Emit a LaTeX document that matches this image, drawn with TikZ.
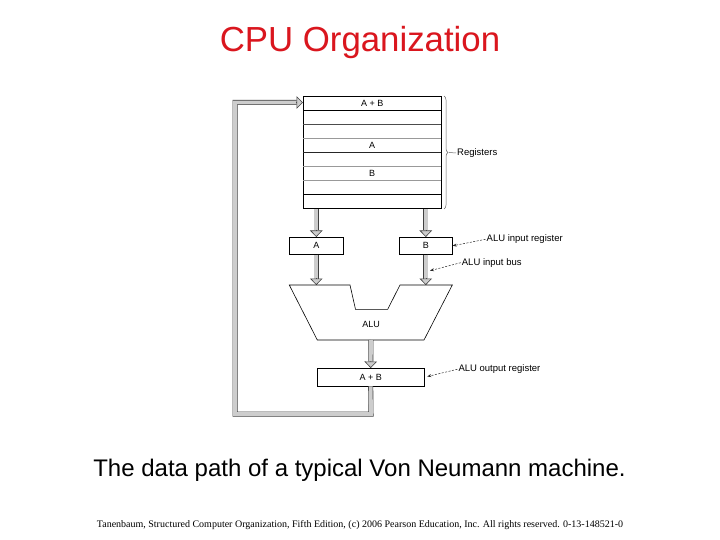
\documentclass[tikz,border=0pt]{standalone}
\usepackage{fontspec}
\setmainfont{Liberation Sans}
\newfontfamily\footfont{Liberation Serif}
\usetikzlibrary{arrows.meta,calc,positioning,decorations.pathreplacing}

\definecolor{titlered}{RGB}{218,22,30}
\definecolor{busfill}{RGB}{205,205,205}

\tikzset{
    box/.style={draw,line width=0.6pt,inner sep=0pt,minimum height=17pt,
        font=\fontsize{9}{10}\selectfont},
    busline/.style={draw=black!75,double=busfill,double distance=3.8pt,
        line width=0.6pt},
    bushead/.style={draw=black!75,line width=0.6pt,
        -{Triangle[width=12.5pt,length=6.5pt,fill=busfill]}},
    callout/.style={black!85,line width=0.5pt,dash pattern=on 2pt off 1.5pt,
        -{Stealth[length=4pt,width=3pt]}},
    lbl/.style={inner sep=1pt,anchor=west,font=\fontsize{9.5}{11}\selectfont}
}

% thick hollow bus arrow, #1 -> #2 (tip at #2)
\newcommand{\busarrow}[2]{%
    \draw[busline] (#1) -- ($(#2)!6.5pt!(#1)$);
    \draw[bushead] ($(#2)!7pt!(#1)$) -- (#2);
}

\begin{document}
\begin{tikzpicture}[x=1pt,y=-1pt]
    \fill[white] (0,0) rectangle (720,540);
    \useasboundingbox (0,0) rectangle (720,540);

    % Titles
    \node[anchor=base,text=titlered,font=\fontsize{34.8}{40}\selectfont]
        (title) at (360,51.7) {CPU Organization};
    \node[anchor=base,font=\fontsize{24}{28}\selectfont]
        (caption) at (359.5,476.7) {The data path of a typical Von Neumann machine.};
    \node[anchor=base,font=\footfont\fontsize{10}{12}\selectfont]
        (credit) at (360,527.5) {Tanenbaum, Structured Computer Organization, Fifth Edition, (c) 2006 Pearson Education, Inc. All rights reserved. 0-13-148521-0};

    % Registers
    \node[draw,line width=0.6pt,anchor=north west,minimum width=137.7pt,
        minimum height=112.5pt,inner sep=0pt] (regs) at (303,96) {};
    \foreach \r/\c in {1/black,2/black!70,3/black!40,4/black!85,5/black!40,
                       6/black!40,7/black}{
        \draw[\c,line width=0.6pt] ($(regs.north west)+(0,\r*14.06)$)
            -- ($(regs.north east)+(0,\r*14.06)$);
    }
    \draw[black!85,line width=1.4pt] ($(regs.north west)+(0,4*14.06)$)
        -- ($(regs.north east)+(0,4*14.06)$);
    \node[font=\fontsize{9}{10}\selectfont] (rab) at ($(regs.north)+(0,7)$) {A + B};
    \node[font=\fontsize{9}{10}\selectfont] (ra) at ($(regs.north)+(0,49.2)$) {A};
    \node[font=\fontsize{9}{10}\selectfont] (rb) at ($(regs.north)+(0,77.3)$) {B};

    \draw[black!60,line width=0.5pt,decorate,decoration={brace,amplitude=4pt}]
        (444,96) -- (444,209);
    \coordinate (bracetip) at (449,152.5);
    \node[lbl] (reglbl) at (456,153) {Registers};
    \draw[black!60,line width=0.5pt] (bracetip) -- (reglbl.west);

    % ALU inputs
    \node[box,minimum width=54pt] (ina) at (316.3,245.8) {A};
    \node[box,minimum width=53pt] (inb) at (425.8,245.8) {B};
    \busarrow{regs.south -| ina}{ina.north}
    \busarrow{regs.south -| inb}{inb.north}

    \coordinate (alua) at (316.3,285);
    \coordinate (alub) at (425.8,285);
    \busarrow{ina.south}{alua}
    \busarrow{inb.south}{alub}

    % ALU
    \draw[line width=0.6pt,line join=miter] (289.3,285) -- (350,285) -- (355.5,309.3)
        -- (387.7,309.3) -- (400,285) -- (452.3,285) -- (424,340)
        -- (317.3,340) -- cycle;
    \node[font=\fontsize{9}{10}\selectfont] (alu) at (371,324) {ALU};
    \coordinate (aluout) at (371,340);

    % ALU output
    \node[box,minimum width=106.7pt,minimum height=17.7pt] (outreg)
        at (370.7,377.2) {A + B};
    \busarrow{aluout}{outreg.north}

    % back to the registers
    \coordinate (c1) at (371,414);
    \coordinate (c2) at (235,414);
    \coordinate (c3) at (235,102.5);
    \coordinate (c4) at (303,102.5);
    \draw[busline,line join=miter] (outreg.south) -- (c1) -- (c2) -- (c3)
        -- ($(c4)!6.5pt!(c3)$);
    \draw[bushead] ($(c4)!7pt!(c3)$) -- (c4);

    % Callouts
    \node[lbl] (inreglbl) at (485.5,239.3) {ALU input register};
    \node[lbl] (buslbl) at (460.7,262.7) {ALU input bus};
    \node[lbl] (outlbl) at (457.3,369.3) {ALU output register};
    \coordinate (busb) at (430,270.7);
    \draw[callout] (inreglbl.west) -- (inb.east);
    \draw[callout] (buslbl.west) -- (busb);
    \draw[callout,shorten >=3pt] (outlbl.west) -- (outreg.east);
\end{tikzpicture}
\end{document}
